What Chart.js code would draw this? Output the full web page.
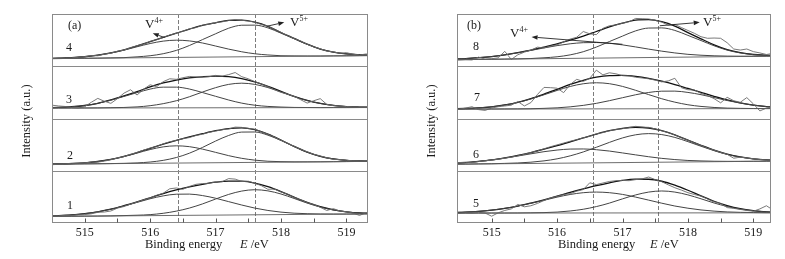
<!DOCTYPE html>
<html lang="en">
<head>
<meta charset="UTF-8">
<title>V 2p XPS peak fitting</title>
<script src="https://cdn.jsdelivr.net/npm/chart.js"></script>
<style>
  body { margin: 0; background: #fff; }
  #wrap {
    position: relative; width: 785px; height: 259px; overflow: hidden;
    font-family: 'Liberation Serif', 'Times New Roman', serif; color: #1a1a1a;
  }
  canvas { position: absolute; top: 0; }
  .lbl { position: absolute; font-size: 12px; line-height: 1; white-space: nowrap; }
  .vl { position: absolute; font-size: 13px; line-height: 1; white-space: nowrap; }
  .vl sup { font-size: 8px; vertical-align: baseline; position: relative; top: -5px; }
  .ylab {
    position: absolute; top: 121px; font-size: 12.5px; line-height: 1; white-space: nowrap;
    transform: translate(-50%, -50%) rotate(-90deg);
  }
  .xlab { position: absolute; top: 238px; font-size: 12.5px; line-height: 1; white-space: nowrap; }
</style>
</head>
<body>
<div id="wrap">
  <canvas id="panelA" width="392" height="259" style="left:0"></canvas>
  <canvas id="panelB" width="393" height="259" style="left:392px"></canvas>

  <div class="ylab" style="left:26px">Intensity (a.u.)</div>
  <div class="ylab" style="left:431px">Intensity (a.u.)</div>
  <div class="xlab" style="left:145px">Binding energy</div>
  <div class="xlab" style="left:240px"><i>E</i> /eV</div>
  <div class="xlab" style="left:558px">Binding energy</div>
  <div class="xlab" style="left:650px"><i>E</i> /eV</div>

  <div class="lbl" style="left:68px;top:19px">(a)</div>
  <div class="lbl" style="left:66px;top:41px">4</div>
  <div class="lbl" style="left:66px;top:93px">3</div>
  <div class="lbl" style="left:67px;top:149px">2</div>
  <div class="lbl" style="left:67px;top:199px">1</div>
  <div class="vl" style="left:145px;top:17px">V<sup>4+</sup></div>
  <div class="vl" style="left:290px;top:15px">V<sup>5+</sup></div>

  <div class="lbl" style="left:467px;top:19px">(b)</div>
  <div class="lbl" style="left:473px;top:40px">8</div>
  <div class="lbl" style="left:474px;top:91px">7</div>
  <div class="lbl" style="left:473px;top:148px">6</div>
  <div class="lbl" style="left:473px;top:197px">5</div>
  <div class="vl" style="left:510px;top:26px">V<sup>4+</sup></div>
  <div class="vl" style="left:703px;top:15px">V<sup>5+</sup></div>
</div>

<script>
// binding energy grids (eV)
const energyRaw = [514.4, 514.5, 514.6, 514.7, 514.8, 514.9, 515.0, 515.1, 515.2, 515.3, 515.4, 515.5, 515.6,
  515.7, 515.8, 515.9, 516.0, 516.1, 516.2, 516.3, 516.4, 516.5, 516.6, 516.7, 516.8, 516.9, 517.0, 517.1,
  517.2, 517.3, 517.4, 517.5, 517.6, 517.7, 517.8, 517.9, 518.0, 518.1, 518.2, 518.3, 518.4, 518.5, 518.6,
  518.7, 518.8, 518.9, 519.0, 519.1, 519.2, 519.3, 519.4];
const energyFit = [514.4, 514.6, 514.8, 515.0, 515.2, 515.4, 515.6, 515.8, 516.0, 516.2, 516.4, 516.6, 516.8,
  517.0, 517.2, 517.4, 517.6, 517.8, 518.0, 518.2, 518.4, 518.6, 518.8, 519.0, 519.2, 519.4];
const bgEnergy = [514.4, 519.4];

const tickValues = [515, 516, 517, 518, 519];
const tickMarks = [515, 515.5, 516, 516.5, 517, 517.5, 518, 518.5, 519];
const peakLinesA = [516.42, 517.6];
const peakLinesB = [516.55, 517.55];

// sample 1
const raw1 = [12.0, 13.5, 13.5, 14.5, 14.0, 15.5, 16.0, 17.5, 20.5, 21.0, 23.0, 28.5, 31.5, 36.0, 40.0, 44.5, 48.0,
  53.0, 57.0, 65.5, 67.0, 64.5, 70.0, 74.0, 75.5, 76.0, 78.5, 79.0, 85.0, 84.0, 79.5, 80.0, 76.0, 71.5, 64.5,
  65.0, 59.5, 55.0, 49.0, 44.5, 39.0, 35.5, 30.0, 24.0, 27.5, 23.0, 21.5, 19.0, 14.5, 19.5, 18.5];
const env1 = [13.1, 14.0, 15.4, 17.8, 21.4, 26.4, 33.1, 40.5, 48.3, 56.2, 63.3, 69.2, 74.1, 78.1, 80.3, 80.0, 76.5,
  69.6, 60.2, 49.5, 39.4, 31.2, 25.3, 21.4, 19.2, 18.5];
const v4s1 = [13.1, 14.0, 15.4, 17.8, 21.4, 26.3, 32.6, 39.5, 46.4, 51.9, 55.1, 55.3, 52.5, 47.4, 40.9, 34.4, 28.5,
  24.0, 20.8, 18.8, 17.8, 17.3, 17.1, 17.1, 17.3, 17.5];
const v5s1 = [12.5, 12.7, 12.9, 13.1, 13.3, 13.6, 14.2, 14.9, 16.0, 18.6, 22.7, 28.6, 36.5, 45.8, 54.7, 61.1, 63.7,
  61.5, 55.5, 47.0, 38.1, 30.6, 25.1, 21.4, 19.2, 18.5];
const bg1 = [12.5, 17.5];

// sample 2
const raw2 = [12.0, 11.5, 12.5, 13.0, 14.5, 14.0, 15.0, 16.5, 16.5, 18.5, 21.0, 24.5, 27.0, 31.5, 35.0, 39.5, 43.5,
  46.5, 51.5, 55.5, 58.0, 61.5, 63.5, 67.5, 70.0, 73.5, 76.0, 78.5, 80.0, 83.5, 83.0, 81.0, 79.5, 74.5, 70.0,
  64.5, 58.5, 52.5, 47.0, 41.0, 36.5, 31.5, 28.5, 25.0, 21.5, 21.5, 20.0, 19.0, 18.5, 18.5, 18.0];
const env2 = [12.6, 13.0, 13.8, 15.2, 17.7, 21.7, 27.5, 34.8, 43.0, 51.1, 58.3, 64.8, 70.9, 76.6, 80.8, 82.0, 78.5,
  70.1, 58.8, 46.5, 35.7, 27.7, 22.7, 20.0, 18.8, 18.4];
const v4s2 = [12.6, 13.0, 13.8, 15.2, 17.7, 21.6, 27.1, 33.8, 40.6, 45.7, 47.7, 46.1, 41.4, 35.2, 28.9, 23.8, 20.3,
  18.2, 17.4, 17.0, 17.0, 17.1, 17.3, 17.6, 17.8, 18.0];
const v5s2 = [12.5, 12.7, 12.9, 13.2, 13.4, 13.7, 14.2, 15.0, 16.7, 19.9, 25.3, 33.6, 44.6, 56.8, 67.5, 74.0, 74.2,
  68.1, 57.9, 46.2, 35.6, 27.7, 22.7, 20.0, 18.8, 18.4];
const bg2 = [12.5, 18.0];

// sample 3
const raw3 = [26.0, 25.5, 24.0, 23.0, 21.0, 20.0, 22.5, 31.0, 38.5, 33.0, 29.0, 38.0, 48.5, 55.0, 45.0, 56.0, 64.5,
  61.0, 70.5, 76.0, 75.0, 78.0, 80.5, 79.5, 79.0, 80.0, 82.5, 81.0, 84.0, 88.0, 80.0, 76.0, 70.5, 66.0, 61.0,
  55.0, 50.0, 46.5, 42.5, 36.0, 29.5, 34.0, 38.0, 27.0, 24.5, 23.5, 23.0, 22.0, 22.0, 21.5, 21.0];
const env3 = [20.4, 21.2, 22.5, 24.9, 29.1, 35.5, 43.1, 51.4, 60.5, 68.0, 73.6, 77.6, 79.8, 81.0, 80.1, 76.4, 70.1,
  61.6, 52.0, 42.4, 34.6, 28.8, 25.1, 22.8, 21.9, 21.5];
const v4s3 = [20.4, 21.2, 22.5, 24.9, 29.0, 35.0, 42.2, 49.5, 56.3, 60.0, 60.0, 56.4, 49.7, 42.5, 35.4, 29.4, 25.4,
  23.1, 21.9, 21.2, 21.0, 20.8, 20.9, 20.9, 21.0, 21.0];
const v5s3 = [20.0, 20.0, 20.1, 20.1, 20.3, 20.7, 21.1, 22.2, 24.5, 28.4, 34.0, 41.6, 50.6, 59.0, 65.3, 67.6, 65.3,
  59.2, 50.8, 42.0, 34.4, 28.8, 25.1, 22.8, 21.9, 21.5];
const bg3 = [20.0, 21.0];

// sample 4
const raw4 = [14.5, 14.8, 15.2, 15.0, 16.0, 16.8, 18.5, 20.5, 20.0, 23.0, 25.0, 28.8, 31.0, 35.5, 39.5, 42.5, 47.5,
  51.0, 55.0, 59.8, 63.0, 67.0, 71.5, 74.0, 78.5, 80.5, 83.5, 85.0, 87.5, 89.5, 88.0, 86.5, 84.5, 80.0, 77.0,
  70.5, 65.0, 59.0, 53.0, 48.5, 42.0, 37.5, 33.5, 29.0, 27.5, 25.0, 26.0, 23.0, 21.5, 23.5, 22.0];
const env4 = [14.8, 15.4, 16.3, 18.2, 21.1, 25.6, 31.4, 39.1, 47.2, 55.4, 63.3, 71.1, 78.1, 83.2, 87.7, 88.1, 84.3,
  76.5, 64.6, 53.4, 42.2, 32.9, 27.1, 23.7, 22.1, 21.1];
const v4s4 = [14.8, 15.4, 16.3, 18.2, 21.1, 25.3, 30.8, 37.3, 43.5, 48.1, 49.9, 48.5, 44.5, 38.7, 32.8, 27.7, 23.9,
  21.6, 20.1, 19.8, 19.6, 19.5, 19.8, 20.0, 20.3, 20.5];
const v5s4 = [14.5, 14.7, 15.0, 15.2, 15.5, 16.0, 16.5, 18.0, 20.1, 24.0, 30.3, 39.7, 51.0, 62.1, 72.8, 78.5, 78.7,
  73.5, 63.3, 52.7, 41.9, 32.9, 27.1, 23.7, 22.1, 21.1];
const bg4 = [14.5, 20.5];

// sample 5
const raw5 = [19.0, 18.5, 19.5, 19.0, 20.5, 19.0, 13.0, 19.5, 24.0, 27.0, 35.5, 31.0, 33.0, 37.5, 43.0, 48.0, 51.0,
  54.5, 56.0, 61.0, 64.0, 77.0, 73.5, 76.5, 79.5, 81.0, 81.5, 81.0, 83.0, 84.5, 88.0, 83.0, 79.0, 73.0, 67.5,
  63.0, 58.0, 54.5, 51.5, 46.0, 40.5, 37.5, 29.5, 28.0, 26.0, 24.0, 22.5, 27.0, 33.0, 25.0, 23.0];
const env5 = [20.0, 20.8, 22.3, 24.7, 28.0, 32.4, 38.1, 44.4, 51.2, 58.4, 65.1, 71.4, 76.9, 81.6, 84.0, 83.7, 79.9,
  72.4, 62.7, 51.9, 41.6, 33.4, 27.5, 23.8, 21.4, 20.4];
const v4s5 = [20.0, 20.8, 22.3, 24.7, 28.0, 32.3, 37.7, 43.6, 49.5, 54.6, 58.0, 59.2, 58.0, 54.7, 49.6, 43.8, 37.9,
  32.5, 28.3, 25.0, 22.7, 21.2, 20.4, 20.0, 19.7, 19.6];
const v5s5 = [19.0, 19.0, 19.0, 19.1, 19.1, 19.2, 19.5, 19.9, 20.9, 23.0, 26.3, 31.4, 38.1, 46.2, 53.7, 59.2, 61.3,
  59.2, 53.8, 46.3, 38.3, 31.6, 26.5, 23.3, 21.2, 20.3];
const bg5 = [19.0, 19.5];

// sample 6
const raw6 = [13.5, 15.5, 16.5, 15.5, 17.5, 19.0, 20.5, 22.0, 24.0, 26.0, 28.5, 31.5, 35.0, 38.0, 42.0, 46.0, 49.5,
  53.0, 56.5, 59.5, 63.0, 66.0, 70.5, 73.0, 76.5, 79.0, 80.5, 82.5, 85.0, 83.5, 83.0, 80.0, 76.5, 73.0, 68.5,
  63.5, 58.5, 53.5, 48.5, 43.5, 39.5, 35.0, 31.5, 24.0, 26.0, 24.5, 23.0, 21.5, 20.5, 20.0, 19.5];
const env6 = [14.2, 15.6, 17.9, 20.8, 24.8, 29.4, 34.9, 41.2, 48.0, 55.3, 62.8, 70.1, 76.6, 81.3, 83.3, 81.8, 76.6,
  68.6, 58.6, 48.6, 39.3, 31.8, 26.4, 22.8, 20.8, 19.7];
const v4s6 = [14.2, 15.6, 17.8, 20.6, 24.2, 28.2, 32.4, 36.5, 39.6, 41.5, 41.7, 40.3, 37.7, 34.1, 30.4, 26.8, 23.7,
  21.4, 19.7, 18.8, 18.2, 18.0, 18.0, 18.1, 18.3, 18.5];
const v5s6 = [12.5, 12.7, 13.1, 13.4, 14.1, 14.9, 16.4, 18.9, 22.8, 28.5, 36.0, 44.9, 54.3, 62.8, 68.8, 71.1, 69.2,
  63.8, 55.7, 46.9, 38.4, 31.3, 26.2, 22.7, 20.8, 19.7];
const bg6 = [12.5, 18.5];

// sample 7
const raw7 = [18.5, 17.5, 20.0, 22.5, 17.0, 15.5, 20.0, 22.5, 24.0, 25.5, 32.5, 24.0, 30.5, 46.0, 59.5, 59.0, 58.0,
  49.5, 65.0, 75.0, 71.0, 77.0, 92.5, 83.5, 87.5, 85.5, 82.0, 81.5, 79.0, 77.5, 76.0, 73.5, 70.0, 72.0, 77.0,
  59.0, 55.0, 54.5, 48.0, 44.0, 38.0, 30.0, 40.5, 34.0, 31.0, 40.0, 28.0, 14.5, 20.0, 22.0, 21.0];
const env7 = [18.5, 19.1, 20.4, 22.4, 25.9, 31.0, 37.9, 46.5, 55.8, 65.2, 73.2, 79.0, 82.2, 82.7, 80.8, 76.9, 71.5,
  65.0, 57.5, 49.9, 42.4, 35.5, 30.0, 25.8, 22.9, 21.1];
const v4s7 = [18.5, 19.1, 20.4, 22.4, 25.8, 30.8, 37.4, 45.4, 53.7, 61.3, 66.5, 68.4, 66.6, 61.4, 54.0, 45.7, 37.8,
  31.3, 26.3, 23.1, 21.1, 19.9, 19.4, 19.1, 19.0, 19.0];
const v5s7 = [18.0, 18.0, 18.1, 18.1, 18.3, 18.4, 18.7, 19.4, 20.4, 22.3, 25.1, 29.0, 34.1, 39.8, 45.4, 49.8, 52.3,
  52.4, 49.9, 45.6, 40.1, 34.4, 29.5, 25.6, 22.9, 21.1];
const bg7 = [18.0, 19.0];

// sample 8
const raw8 = [12.5, 12.0, 12.5, 12.0, 17.5, 13.5, 14.5, 16.0, 28.5, 13.0, 22.0, 27.0, 31.0, 36.5, 35.0, 38.5, 41.0,
  46.5, 52.0, 55.5, 66.5, 62.0, 60.5, 72.5, 77.5, 79.0, 82.5, 85.0, 91.5, 91.0, 90.5, 88.0, 84.5, 78.5, 80.0,
  74.0, 68.5, 63.0, 56.5, 53.5, 54.0, 53.5, 45.0, 33.0, 31.0, 33.0, 28.0, 25.5, 22.5, 24.5, 21.0];
const env8 = [13.5, 14.7, 16.4, 18.6, 21.9, 26.1, 30.9, 36.8, 42.9, 49.8, 57.6, 66.5, 75.3, 82.5, 88.3, 89.2, 85.3,
  76.8, 64.4, 52.5, 41.1, 31.9, 26.0, 22.5, 21.0, 20.1];
const v4s8 = [13.5, 14.7, 16.4, 18.6, 21.8, 25.8, 30.3, 35.1, 39.5, 43.0, 45.1, 45.4, 43.9, 40.9, 37.0, 32.8, 28.9,
  25.5, 22.8, 21.1, 20.0, 19.4, 19.2, 19.1, 19.3, 19.5];
const v5s8 = [12.5, 12.8, 13.1, 13.3, 13.7, 14.2, 14.8, 16.2, 18.1, 21.8, 27.8, 36.7, 47.3, 57.7, 67.7, 73.1, 73.4,
  68.6, 59.1, 49.2, 39.2, 30.9, 25.5, 22.3, 20.9, 20.1];
const bg8 = [12.5, 19.5];

const serif = "'Liberation Serif', 'Times New Roman', serif";

function pts(xs, ys) {
  return xs.map((x, i) => ({ x: x, y: ys[i] }));
}

function sampleDatasets(axisId, raw, env, v4, v5, bg) {
  return [
    { data: pts(bgEnergy, bg), borderColor: '#5c5c5c', borderWidth: 0.9 },
    { data: pts(energyRaw, raw), borderColor: '#6a6a6a', borderWidth: 0.9 },
    { data: pts(energyFit, v4), borderColor: '#444', borderWidth: 1, cubicInterpolationMode: 'monotone' },
    { data: pts(energyFit, v5), borderColor: '#444', borderWidth: 1, cubicInterpolationMode: 'monotone' },
    { data: pts(energyFit, env), borderColor: '#111', borderWidth: 1.3, cubicInterpolationMode: 'monotone' }
  ].map(d => Object.assign(d, { yAxisID: axisId, pointRadius: 0, fill: false }));
}

function drawArrow(ctx, x0, y0, x1, y1) {
  const ang = Math.atan2(y1 - y0, x1 - x0);
  const len = 6, half = 2.3;
  const bx = x1 - len * Math.cos(ang), by = y1 - len * Math.sin(ang);
  ctx.beginPath();
  ctx.moveTo(x0, y0);
  ctx.lineTo(bx, by);
  ctx.stroke();
  ctx.beginPath();
  ctx.moveTo(x1, y1);
  ctx.lineTo(bx + half * Math.sin(ang), by - half * Math.cos(ang));
  ctx.lineTo(bx - half * Math.sin(ang), by + half * Math.cos(ang));
  ctx.closePath();
  ctx.fill();
}

// frame, separators, peak lines, inward ticks and the V4+/V5+ arrows
const panelDeco = {
  id: 'panelDeco',
  beforeDatasetsDraw(chart, args, opts) {
    const { ctx, chartArea: a, scales } = chart;
    ctx.save();
    ctx.strokeStyle = '#5a5a5a';
    ctx.lineWidth = 0.8;
    ctx.setLineDash([4, 2]);
    opts.peaks.forEach(v => {
      const x = Math.round(scales.x.getPixelForValue(v)) + 0.5;
      ctx.beginPath();
      ctx.moveTo(x, a.top);
      ctx.lineTo(x, a.bottom);
      ctx.stroke();
    });
    ctx.restore();
  },
  afterDatasetsDraw(chart, args, opts) {
    const { ctx, chartArea: a, scales } = chart;
    ctx.save();
    ctx.strokeStyle = '#8a8a8a';
    ctx.lineWidth = 1;
    const L = Math.round(a.left) + 0.5, R = Math.round(a.right) - 0.5;
    const T = Math.round(a.top) + 0.5, B = Math.round(a.bottom) - 0.5;
    ctx.strokeRect(L, T, R - L, B - T);
    opts.stack.forEach(id => {
      const y = Math.round(scales[id].bottom) + 0.5;
      if (y < B - 1) {
        ctx.beginPath();
        ctx.moveTo(L, y);
        ctx.lineTo(R, y);
        ctx.stroke();
      }
    });
    ctx.strokeStyle = '#555';
    tickMarks.forEach(v => {
      const x = Math.round(scales.x.getPixelForValue(v)) + 0.5;
      ctx.beginPath();
      ctx.moveTo(x, B);
      ctx.lineTo(x, B - 4);
      ctx.stroke();
    });
    ctx.strokeStyle = '#222';
    ctx.fillStyle = '#222';
    ctx.lineWidth = 0.9;
    opts.arrows.forEach(ar => {
      const ys = scales[ar.axis];
      drawArrow(ctx,
        scales.x.getPixelForValue(ar.from[0]), ys.getPixelForValue(ar.from[1]),
        scales.x.getPixelForValue(ar.to[0]), ys.getPixelForValue(ar.to[1]));
    });
    ctx.restore();
  }
};

// samples and stackIds are listed top to bottom
function makePanel(canvasId, samples, stackIds, xMin, xMax, pad, peaks, arrows) {
  const datasets = [];
  samples.forEach((s, i) => {
    datasets.push(...sampleDatasets(stackIds[i], s.raw, s.env, s.v4, s.v5, s.bg));
  });
  const scales = {
    x: {
      type: 'linear', position: 'bottom', min: xMin, max: xMax,
      grid: { display: false, drawTicks: false },
      border: { display: false },
      ticks: { font: { family: serif, size: 12 }, color: '#1a1a1a', padding: 3 },
      afterBuildTicks: s => { s.ticks = tickValues.map(v => ({ value: v })); },
      afterFit: s => { s.height = 36; }
    }
  };
  // stacked left axes are laid out bottom-up, so add them in reverse
  stackIds.slice().reverse().forEach(id => {
    scales[id] = {
      type: 'linear', position: 'left', stack: 'spectra', stackWeight: 1, min: 0, max: 100,
      grid: { display: false, drawTicks: false },
      border: { display: false },
      ticks: { display: false }
    };
  });
  return new Chart(document.getElementById(canvasId), {
    type: 'line',
    data: { datasets: datasets },
    options: {
      responsive: false,
      animation: false,
      devicePixelRatio: 1,
      layout: { padding: pad },
      elements: { line: { tension: 0 } },
      plugins: {
        legend: { display: false },
        tooltip: { enabled: false },
        panelDeco: { peaks: peaks, arrows: arrows, stack: stackIds }
      },
      scales: scales
    },
    plugins: [panelDeco]
  });
}

// panel (a): samples 4,3,2,1 from top to bottom
makePanel('panelA',
  [
    { raw: raw4, env: env4, v4: v4s4, v5: v5s4, bg: bg4 },
    { raw: raw3, env: env3, v4: v4s3, v5: v5s3, bg: bg3 },
    { raw: raw2, env: env2, v4: v4s2, v5: v5s2, bg: bg2 },
    { raw: raw1, env: env1, v4: v4s1, v5: v5s1, bg: bg1 }
  ],
  ['s4', 's3', 's2', 's1'], 514.5, 519.33,
  { left: 52, right: 24, top: 14, bottom: 0 },
  peakLinesA,
  [
    { axis: 's4', from: [516.22, 55], to: [516.04, 63] },
    { axis: 's4', from: [517.8, 77], to: [518.05, 84] }
  ]);

// panel (b): samples 8,7,6,5 from top to bottom
makePanel('panelB',
  [
    { raw: raw8, env: env8, v4: v4s8, v5: v5s8, bg: bg8 },
    { raw: raw7, env: env7, v4: v4s7, v5: v5s7, bg: bg7 },
    { raw: raw6, env: env6, v4: v4s6, v5: v5s6, bg: bg6 },
    { raw: raw5, env: env5, v4: v4s5, v5: v5s5, bg: bg5 }
  ],
  ['s8', 's7', 's6', 's5'], 514.47, 519.27,
  { left: 65, right: 14, top: 14, bottom: 0 },
  peakLinesB,
  [
    { axis: 's8', from: [517.0, 42], to: [515.61, 56] },
    { axis: 's8', from: [517.57, 77.5], to: [518.18, 84] }
  ]);
</script>
</body>
</html>
